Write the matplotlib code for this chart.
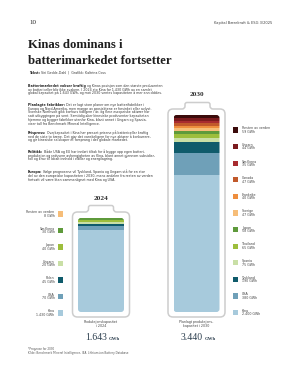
import matplotlib.pyplot as plt
from matplotlib.patches import FancyBboxPatch, PathPatch, Rectangle
from matplotlib.path import Path

# --- data (GWh) ---
countries_2024 = ["Kina", "USA", "Polen", "Ungarn", "Japan", "Sør-Korea", "Resten av verden"]
gwh_2024 = [1430, 70, 45, 20, 40, 30, 8]
total_2024 = "1.643"

countries_2030 = ["Kina", "USA", "Tyskland", "Spania", "Thailand", "Japan", "Sverige",
                  "Frankrike", "Canada", "Sør-Korea", "Ungarn", "Resten av verden"]
gwh_2030 = [2400, 380, 190, 75, 65, 58, 47, 40, 47, 35, 44, 59]
total_2030 = "3.440"

colors_2024 = ["#a7cadc", "#6fa0b8", "#0f5b6b", "#c9dfa6", "#9dbe3c", "#5e9a3b", "#f6bd78"]
colors_2030 = ["#a7cadc", "#6fa0b8", "#0f5b6b", "#c9dfa6", "#9dbe3c", "#5e9a3b", "#f6bd78",
               "#ee8e3e", "#c1592b", "#a82b2f", "#7b1b1e", "#3b0b0b"]

W, H = 300, 375
fig = plt.figure(figsize=(W / 100, H / 100), dpi=100)
fig.patch.set_facecolor("white")

# background axes in pixel units (y down)
bg = fig.add_axes([0, 0, 1, 1], zorder=0)
bg.set_xlim(0, W)
bg.set_ylim(H, 0)
bg.axis("off")
renderer = fig.canvas.get_renderer()

SANS = "DejaVu Sans"
SERIF = "Liberation Serif"
TXT = "#3a3a3a"


def fmt(v):
    return f"{v:,}".replace(",", ".")


def battery_outline(x0, x1, y0, y1, cx0, cx1, cy, r=5, s=3):
    verts = [(x0, y0 + r), (x0, y0), (x0 + r, y0),
             (cx0 - s, y0), (cx0, y0), (cx0, y0 - s),
             (cx0, cy + 2), (cx0, cy), (cx0 + 2, cy),
             (cx1 - 2, cy), (cx1, cy), (cx1, cy + 2),
             (cx1, y0 - s), (cx1, y0), (cx1 + s, y0),
             (x1 - r, y0), (x1, y0), (x1, y0 + r),
             (x1, y1 - r), (x1, y1), (x1 - r, y1),
             (x0 + r, y1), (x0, y1), (x0, y1 - r),
             (x0, y0 + r)]
    codes = [Path.MOVETO, Path.CURVE3, Path.CURVE3,
             Path.LINETO, Path.CURVE3, Path.CURVE3,
             Path.LINETO, Path.CURVE3, Path.CURVE3,
             Path.LINETO, Path.CURVE3, Path.CURVE3,
             Path.LINETO, Path.CURVE3, Path.CURVE3,
             Path.LINETO, Path.CURVE3, Path.CURVE3,
             Path.LINETO, Path.CURVE3, Path.CURVE3,
             Path.LINETO, Path.CURVE3, Path.CURVE3,
             Path.CLOSEPOLY]
    bg.add_patch(PathPatch(Path(verts, codes), facecolor="white",
                           edgecolor="#cdcdcd", lw=1.1))


def battery_fill(left, values, colors):
    ax = fig.add_axes([left / W, 1 - 312 / H, 46 / W, 197 / H], zorder=2)
    ax.patch.set_alpha(0)
    ax.set_xlim(-0.5, 0.5)
    ax.set_ylim(0, 3440)
    ax.axis("off")
    bars = []
    bottom = 0
    for v, c in zip(values, colors):
        bars += list(ax.bar(0, v, bottom=bottom, width=1, color=c, lw=0))
        bottom += v
    # rounded clip box derived from the axes scale
    inv = bg.transData.inverted()
    xa, ya = inv.transform(ax.transData.transform((-0.5, 0)))
    xb, yb = inv.transform(ax.transData.transform((0.5, bottom)))
    clip = FancyBboxPatch((xa, yb), xb - xa, ya - yb,
                          boxstyle="round,pad=0,rounding_size=3",
                          transform=bg.transData)
    for b in bars:
        b.set_clip_path(clip)
    return ax


def legend(names, values, colors, y_start, step, sq_x, side):
    for i, (n, v, c) in enumerate(zip(names[::-1], values[::-1], colors[::-1])):
        y = y_start + i * step
        bg.add_patch(Rectangle((sq_x, y - 2.6), 5.2, 5.2, color=c, lw=0))
        if side == "left":
            tx, ha = sq_x - 3, "right"
        else:
            tx, ha = sq_x + 9, "left"
        bg.text(tx, y - 1.8, n, fontsize=2.3, ha=ha, va="center", color="#444444", family=SANS)
        bg.text(tx, y + 1.8, f"{fmt(v)} GWh", fontsize=2.3, ha=ha, va="center",
                color="#444444", family=SANS)


def para_line(x, y, lead, rest):
    xr = x
    if lead:
        t = bg.text(x, y, lead, fontsize=2.35, weight="bold", color="#222222",
                    family=SANS, va="baseline")
        bb = t.get_window_extent(renderer)
        xr = bg.transData.inverted().transform((bb.x1, bb.y0))[0] + 1
    bg.text(xr, y, rest, fontsize=2.35, color=TXT, family=SANS, va="baseline")


# --- header ---
bg.text(29, 24, "10", fontsize=5, color="#222222", family=SERIF, va="baseline")
bg.text(272, 24, "Kapital Bærekraft & ESG 3/2025", fontsize=2.6, color="#444444",
        family=SANS, ha="right", va="baseline")
bg.text(28, 48.5, "Kinas dominans i", fontsize=9.2, weight="bold", color="#1e1e1e",
        family=SERIF, va="baseline")
bg.text(28, 63.5, "batterimarkedet fortsetter", fontsize=9.2, weight="bold",
        color="#1e1e1e", family=SERIF, va="baseline")
para_line(29, 74, "Tekst:", "Siri Gedde-Dahl  |  Grafikk: Kaltrina Coss")

# --- body text ---
paragraphs = [
    (87, "Batterimarkedet vokser kraftig", [
        "og Kinas posisjon som den største produsenten",
        "av battericeller blir ikke svakere. I 2024 sto Kina for 1.430 GWh av en samlet",
        "global kapasitet på 1.643 GWh, og mot 2030 ventes kapasiteten å mer enn dobles."]),
    (106, "Planlagte fabrikker:", [
        "Det er lagt store planer om nye batterifabrikker i",
        "Europa og Nord-Amerika, men mange av prosjektene er forsinket eller avlyst.",
        "Svenske Northvolt gikk konkurs tidligere i år, og flere europeiske aktører har",
        "satt utbyggingen på vent. Samtidig øker kinesiske produsenter kapasiteten",
        "hjemme og bygger fabrikker utenfor Kina, blant annet i Ungarn og Spania,",
        "viser tall fra Benchmark Mineral Intelligence."]),
    (134, "Prispress:", [
        "Overkapasitet i Kina har presset prisene på battericeller kraftig",
        "ned de siste to årene. Det gjør det vanskeligere for nye aktører å konkurrere,",
        "og gir kinesiske selskaper et forsprang i det globale markedet."]),
    (153, "Politikk:", [
        "Både USA og EU har innført tiltak for å bygge opp egen batteri-",
        "produksjon og redusere avhengigheten av Kina, blant annet gjennom subsidier,",
        "toll og krav til lokalt innhold i elbiler og energilagring."]),
    (173.5, "Europa:", [
        "Ifølge prognosene vil Tyskland, Spania og Ungarn stå for en stor",
        "del av den europeiske kapasiteten i 2030, mens andelen fra resten av verden",
        "fortsatt vil være liten sammenlignet med Kina og USA."]),
]
for y0, lead, lines in paragraphs:
    for j, line in enumerate(lines):
        para_line(28, y0 + j * 3.7, lead if j == 0 else None, line)

# --- batteries ---
battery_outline(72.5, 129.5, 212, 317, 88.5, 113.5, 205.5)
battery_outline(168, 225, 109, 317, 185, 210, 102.5)
battery_fill(78, gwh_2024, colors_2024)
battery_fill(173.5, gwh_2030, colors_2030)

bg.text(101, 199.5, "2024", fontsize=5.2, weight="bold", color="#333333",
        family=SERIF, ha="center", va="baseline")
bg.text(196.5, 96.5, "2030", fontsize=5.2, weight="bold", color="#333333",
        family=SERIF, ha="center", va="baseline")

legend(countries_2024, gwh_2024, colors_2024, 214, 16.5, 57.5, "left")
legend(countries_2030, gwh_2030, colors_2030, 130, 16.6, 233, "right")

# --- captions under batteries ---
for cx, l1, l2, tot in [(101, "Produksjonskapasitet", "i 2024", total_2024),
                        (196.5, "Planlagt produksjons-", "kapasitet i 2030", total_2030)]:
    bg.text(cx, 323, l1, fontsize=2.3, ha="center", color="#444444", family=SANS, va="baseline")
    bg.text(cx, 327, l2, fontsize=2.3, ha="center", color="#444444", family=SANS, va="baseline")
    bg.text(cx + 6, 340, tot, fontsize=7, ha="right", color="#2c3e4e", family=SERIF,
            va="baseline")
    bg.text(cx + 8, 340, "GWh", fontsize=3.4, ha="left", color="#2c3e4e", family=SERIF,
            va="baseline", weight="bold")

# --- footnote ---
bg.text(28, 350, "*Prognose for 2030", fontsize=2, color="#555555", family=SANS, va="baseline")
bg.text(28, 354, "Kilde: Benchmark Mineral Intelligence, IEA, Lithium-ion Battery Database",
        fontsize=2, color="#555555", family=SANS, va="baseline")

fig.savefig("out.png", dpi=100, facecolor="white")
